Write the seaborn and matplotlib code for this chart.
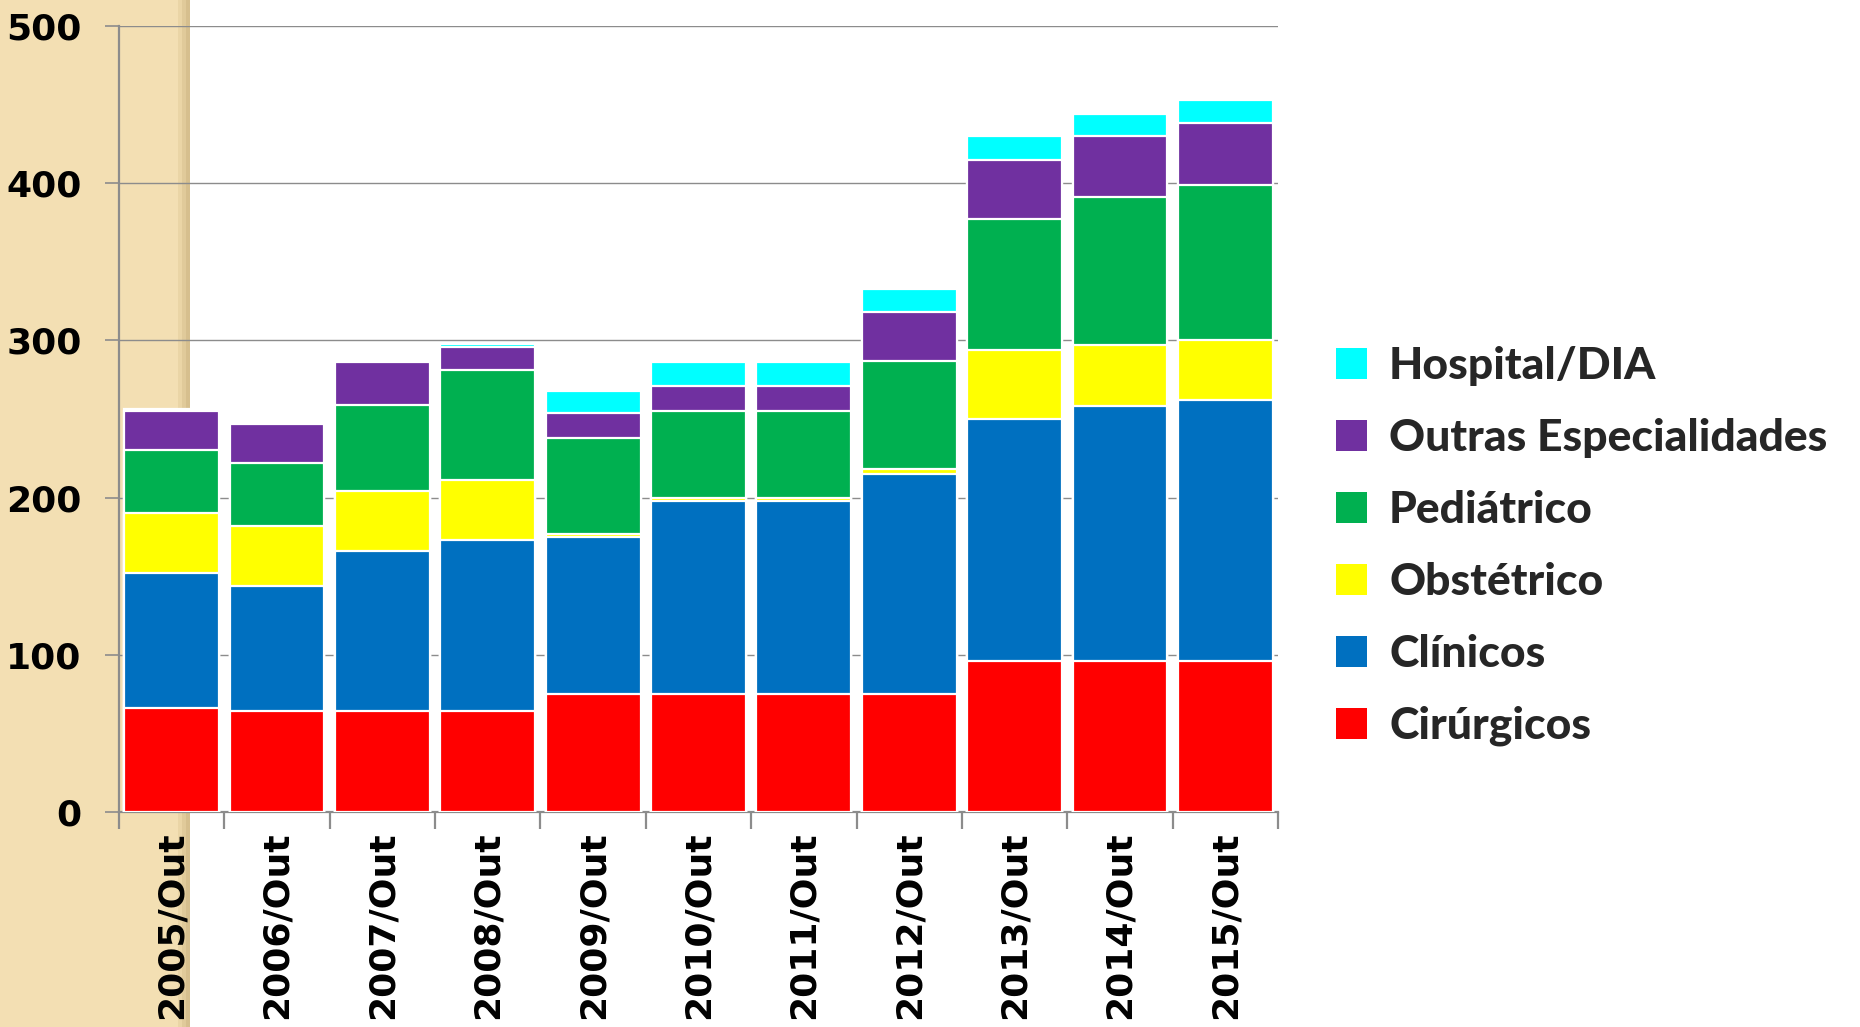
import numpy as np
import pandas as pd
import matplotlib
matplotlib.use("Agg")
import matplotlib.pyplot as plt
import seaborn as sns
from matplotlib.patches import Rectangle, Patch

years = ["2005/Out", "2006/Out", "2007/Out", "2008/Out", "2009/Out", "2010/Out",
         "2011/Out", "2012/Out", "2013/Out", "2014/Out", "2015/Out"]
cirurgicos = [66, 64, 64, 64, 75, 75, 75, 75, 96, 96, 96]
clinicos = [86, 80, 102, 109, 100, 123, 123, 140, 154, 162, 166]
obstetrico = [38, 38, 38, 38, 2, 2, 2, 3, 44, 39, 38]
pediatrico = [40, 40, 55, 70, 61, 55, 55, 69, 83, 94, 99]
outras = [25, 25, 27, 15, 16, 16, 16, 31, 38, 39, 39]
hospital_dia = [1.5, 1, 1.5, 1.5, 14, 15, 15, 15, 15, 14, 15]

series_names = ["Cirúrgicos", "Clínicos", "Obstétrico", "Pediátrico",
                "Outras Especialidades", "Hospital/DIA"]
series_vals = [cirurgicos, clinicos, obstetrico, pediatrico, outras, hospital_dia]
colors = ["#FF0000", "#0070C0", "#FFFF00", "#00B050", "#7030A0", "#00FFFF"]

sns.set_theme(style="white")
plt.rcParams["font.family"] = ["DejaVu Sans"]

fig = plt.figure(figsize=(18.6, 10.27), dpi=100)
fig.patch.set_facecolor("white")

# tan strip on the left (slide background)
fig.patches.append(Rectangle((0, 0), 190 / 1860, 1, transform=fig.transFigure,
                             facecolor="#F3DFB3", edgecolor="none", zorder=-10))
for i, c in enumerate(["#EAD5A6", "#E0CA9A", "#D6BF8E"]):
    fig.patches.append(Rectangle(((178 + i * 4) / 1860, 0), 4 / 1860, 1,
                                 transform=fig.transFigure, facecolor=c,
                                 edgecolor="none", zorder=-10))

ax = fig.add_axes([119 / 1860, 1 - 812 / 1027, (1278 - 119) / 1860, (812 - 26) / 1027])
ax.patch.set_alpha(0)
ax.set_zorder(1)

cum = np.zeros(len(years))
cums = []
for vals in series_vals:
    cum = cum + np.array(vals, dtype=float)
    cums.append(cum.copy())

# draw cumulative totals from the top series down so each segment is visible
for name, c, col in reversed(list(zip(series_names, cums, colors))):
    d = pd.DataFrame({"year": years, "v": c})
    sns.barplot(data=d, x="year", y="v", color=col, width=0.9, ax=ax,
                edgecolor="white", linewidth=1.6, saturation=1, zorder=3)

ax.set_ylim(0, 500)
ax.set_xlim(-0.5, len(years) - 0.5)
ax.set_yticks([0, 100, 200, 300, 400, 500])
ax.yaxis.grid(True, color="#8C8C8C", linewidth=1.0, zorder=0)
ax.set_axisbelow(True)
ax.set_xlabel("")
ax.set_ylabel("")

for s in ["top", "right"]:
    ax.spines[s].set_visible(False)
for s in ["left", "bottom"]:
    ax.spines[s].set_color("#8C8C8C")
    ax.spines[s].set_linewidth(1.6)

ax.tick_params(axis="y", which="major", left=True, length=10, width=1.2,
               color="#8C8C8C", labelsize=26, pad=17, labelcolor="black")
ax.tick_params(axis="x", which="major", bottom=False, length=0, labelsize=26,
               pad=14, labelcolor="black")
ax.set_xticks(np.arange(-0.5, len(years), 1.0), minor=True)
ax.tick_params(axis="x", which="minor", bottom=True, length=12, width=1.6,
               color="#8C8C8C")
for lab in ax.get_yticklabels():
    lab.set_fontweight("heavy")
for lab in ax.get_xticklabels():
    lab.set_fontweight("heavy")
    lab.set_rotation(90)
    lab.set_va("top")
    lab.set_ha("center")

handles = [Patch(facecolor=c, edgecolor="none") for c in colors]
leg = fig.legend(handles[::-1], series_names[::-1], loc="center left",
                 bbox_to_anchor=(1318 / 1860, 1 - 546 / 1027), frameon=False,
                 prop={"family": "Lato", "weight": "black", "size": 32},
                 handlelength=0.7, handleheight=0.7, handletextpad=0.5,
                 labelspacing=0.72, borderaxespad=0)

fig.savefig("out.png", dpi=100, facecolor="white")
